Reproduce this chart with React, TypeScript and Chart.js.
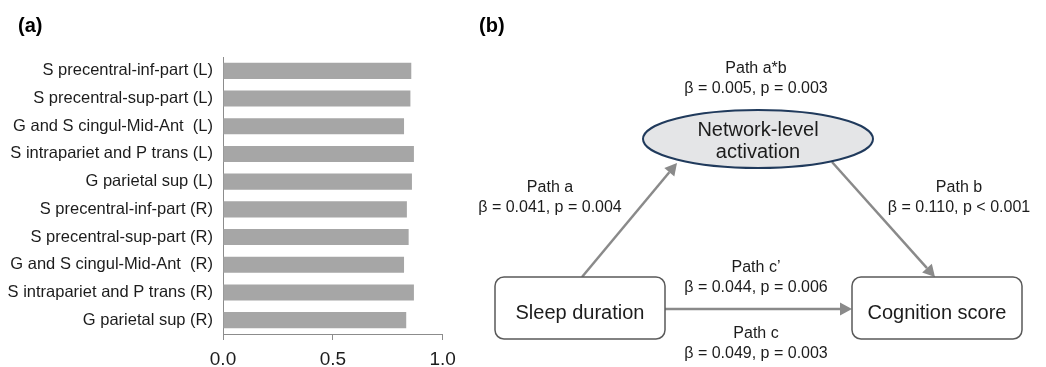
import React, { useEffect, useRef } from "react";
import { Chart, registerables } from "chart.js";

Chart.register(...registerables);

// ---------- Panel (a) data ----------
const categories = [
  "S precentral-inf-part (L)",
  "S precentral-sup-part (L)",
  "G and S cingul-Mid-Ant  (L)",
  "S intrapariet and P trans (L)",
  "G parietal sup (L)",
  "S precentral-inf-part (R)",
  "S precentral-sup-part (R)",
  "G and S cingul-Mid-Ant  (R)",
  "S intrapariet and P trans (R)",
  "G parietal sup (R)",
];
const values = [0.857, 0.853, 0.824, 0.869, 0.86, 0.837, 0.845, 0.824, 0.869, 0.834];
const xMin = 0;
const xMax = 1;
const xStep = 0.5;

// ---------- Panel (b) data ----------
const nodeNames = ["Sleep duration", "Network-level activation", "Cognition score"];
const pathNames = ["Path a*b", "Path a", "Path b", "Path c\u2019", "Path c"];
const pathBetas = [0.005, 0.041, 0.11, 0.044, 0.049];
const pathPValues = ["= 0.003", "= 0.004", "< 0.001", "= 0.006", "= 0.003"];

// ---------- Layout (diagram coordinates, page-pixel like units) ----------
const FONT = "'Liberation Sans', Arial, Helvetica, sans-serif";
const TEXT_COLOR = "#1c1c1c";
const ARROW_COLOR = "#8a8a8a";

const boxLayout = [
  { cx: 580, cy: 308, w: 170, h: 62, r: 9 }, // sleep
  null,
  { cx: 937, cy: 308, w: 170, h: 62, r: 9 }, // cognition
];
const ellipseLayout = { cx: 758, cy: 139, rx: 115, ry: 29 };
const nodeTextBaselines = [[319], [136, 157.5], [319]];
const pathTextLayout = [
  { x: 756, y1: 73, y2: 93 },
  { x: 550, y1: 192, y2: 212 },
  { x: 959, y1: 192, y2: 212 },
  { x: 756, y1: 272, y2: 292 },
  { x: 756, y1: 338, y2: 358 },
];
// arrows: [fromX, fromY, toX, toY]
const arrowLayout = [
  [582, 277, 677, 163],
  [832, 162, 935, 277],
  [665, 309, 852, 309],
];

function panelLabel(text: string, pageX: number, offsetX: number, baseline: number) {
  return {
    id: "panelLabel" + text,
    afterDraw(chart: any) {
      const ctx = chart.ctx;
      ctx.save();
      ctx.font = `bold 20px ${FONT}`;
      ctx.fillStyle = "#000";
      ctx.textAlign = "left";
      ctx.textBaseline = "alphabetic";
      ctx.fillText(text, pageX - offsetX, baseline);
      ctx.restore();
    },
  };
}

const diagramPlugin = {
  id: "mediationDiagram",
  afterDatasetsDraw(chart: any) {
    const ctx = chart.ctx;
    const xs = chart.scales.x;
    const ys = chart.scales.y;
    const X = (v: number) => xs.getPixelForValue(v);
    const Y = (v: number) => ys.getPixelForValue(v);
    ctx.save();

    // arrows
    arrowLayout.forEach(([x1, y1, x2, y2]) => {
      const px1 = X(x1), py1 = Y(y1), px2 = X(x2), py2 = Y(y2);
      const ang = Math.atan2(py2 - py1, px2 - px1);
      const headLen = 12;
      const headHalf = 6.5;
      const bx = px2 - headLen * Math.cos(ang);
      const by = py2 - headLen * Math.sin(ang);
      ctx.strokeStyle = ARROW_COLOR;
      ctx.fillStyle = ARROW_COLOR;
      ctx.lineWidth = 2.5;
      ctx.beginPath();
      ctx.moveTo(px1, py1);
      ctx.lineTo(bx, by);
      ctx.stroke();
      ctx.beginPath();
      ctx.moveTo(px2, py2);
      ctx.lineTo(bx + headHalf * Math.sin(ang), by - headHalf * Math.cos(ang));
      ctx.lineTo(bx - headHalf * Math.sin(ang), by + headHalf * Math.cos(ang));
      ctx.closePath();
      ctx.fill();
    });

    // ellipse
    const e = ellipseLayout;
    ctx.beginPath();
    ctx.ellipse(X(e.cx), Y(e.cy), Math.abs(X(e.cx + e.rx) - X(e.cx)), Math.abs(Y(e.cy + e.ry) - Y(e.cy)), 0, 0, Math.PI * 2);
    ctx.fillStyle = "#e4e5e7";
    ctx.fill();
    ctx.strokeStyle = "#203a5c";
    ctx.lineWidth = 2;
    ctx.stroke();

    // boxes
    boxLayout.forEach((b) => {
      if (!b) return;
      const l = X(b.cx - b.w / 2), t = Y(b.cy - b.h / 2);
      const w = X(b.cx + b.w / 2) - l, h = Y(b.cy + b.h / 2) - t;
      ctx.beginPath();
      ctx.roundRect(l, t, w, h, b.r);
      ctx.fillStyle = "#ffffff";
      ctx.fill();
      ctx.strokeStyle = "#5a5a5a";
      ctx.lineWidth = 1.5;
      ctx.stroke();
    });

    // node texts
    ctx.fillStyle = TEXT_COLOR;
    ctx.textAlign = "center";
    ctx.textBaseline = "alphabetic";
    ctx.font = `20px ${FONT}`;
    nodeNames.forEach((name, i) => {
      const lines = nodeTextBaselines[i].length > 1 ? name.split(" ") : [name];
      const cx = boxLayout[i] ? boxLayout[i]!.cx : ellipseLayout.cx;
      lines.forEach((ln, j) => ctx.fillText(ln, X(cx), Y(nodeTextBaselines[i][j])));
    });

    // path texts
    ctx.font = `16px ${FONT}`;
    pathNames.forEach((name, i) => {
      const p = pathTextLayout[i];
      ctx.fillText(name, X(p.x), Y(p.y1));
      ctx.fillText(`\u03B2 = ${pathBetas[i].toFixed(3)}, p ${pathPValues[i]}`, X(p.x), Y(p.y2));
    });
    ctx.restore();
  },
};

export default function App() {
  const refA = useRef<HTMLCanvasElement>(null);
  const refB = useRef<HTMLCanvasElement>(null);

  useEffect(() => {
    const barChart = new Chart(refA.current!, {
      type: "bar",
      data: {
        labels: categories,
        datasets: [
          {
            data: values,
            backgroundColor: "#a6a6a6",
            borderWidth: 0,
            barPercentage: 0.58,
            categoryPercentage: 1,
          },
        ],
      },
      options: {
        indexAxis: "y",
        animation: false,
        responsive: false,
        layout: { padding: { top: 57, right: 17.3, left: 0, bottom: 0 } },
        plugins: { legend: { display: false }, tooltip: { enabled: false } },
        scales: {
          x: {
            min: xMin,
            max: xMax,
            ticks: {
              stepSize: xStep,
              callback: (v: any) => Number(v).toFixed(1),
              font: { family: FONT, size: 19, lineHeight: 1.85 },
              color: TEXT_COLOR,
              padding: 2,
              maxRotation: 0,
            },
            grid: { display: true, drawOnChartArea: false, drawTicks: true, tickLength: 6, color: "#8c8c8c", lineWidth: 1 },
            border: { display: true, color: "#8c8c8c", width: 1 },
            afterFit: (s: any) => {
              s.height = 33;
            },
          },
          y: {
            ticks: { font: { family: FONT, size: 16.5 }, color: TEXT_COLOR, padding: 10, autoSkip: false },
            grid: { display: false, drawTicks: false },
            border: { display: true, color: "#8c8c8c", width: 1 },
            afterFit: (s: any) => {
              s.width = 223;
            },
          },
        },
      } as any,
      plugins: [panelLabel("(a)", 18, 0, 32)],
    });

    const diagram = new Chart(refB.current!, {
      type: "scatter",
      data: {
        datasets: [
          {
            data: boxLayout.map((b, i) => ({ x: b ? b.cx : ellipseLayout.cx, y: b ? b.cy : ellipseLayout.cy, name: nodeNames[i] })),
            pointRadius: 0,
          },
        ],
      },
      options: {
        animation: false,
        responsive: false,
        layout: { padding: 0 },
        plugins: { legend: { display: false }, tooltip: { enabled: false } },
        scales: {
          x: { type: "linear", min: 460, max: 1046, display: false },
          y: { type: "linear", min: 0, max: 367, reverse: true, display: false },
        },
      } as any,
      plugins: [diagramPlugin, panelLabel("(b)", 479, 460, 32)],
    });

    return () => {
      barChart.destroy();
      diagram.destroy();
    };
  }, []);

  return (
    <div style={{ position: "absolute", left: 0, top: 0, width: 1046, height: 367, background: "#fff" }}>
      <canvas ref={refA} width={460} height={367} style={{ position: "absolute", left: 0, top: 0, width: 460, height: 367 }} />
      <canvas ref={refB} width={586} height={367} style={{ position: "absolute", left: 460, top: 0, width: 586, height: 367 }} />
    </div>
  );
}
